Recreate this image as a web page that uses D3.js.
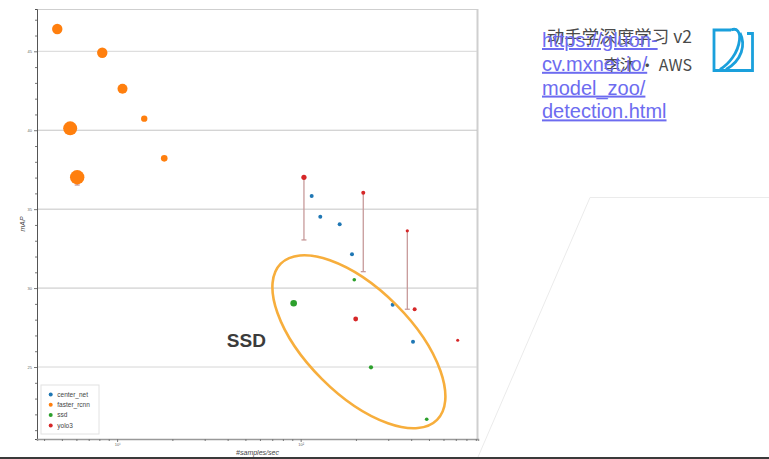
<!DOCTYPE html>
<html>
<head>
<meta charset="utf-8">
<script src="https://cdn.jsdelivr.net/npm/d3@7"></script>
<style>
  body { margin: 0; background: #fff; }
  svg { display: block; }
</style>
</head>
<body>
<svg id="chart" width="769" height="459"></svg>
<script>
// series names + colours (legend order)
const seriesNames = ["center_net", "faster_rcnn", "ssd", "yolo3"];
const seriesColors = ["#1f77b4", "#ff7f0e", "#2ca02c", "#d62728"];

// throughput (#samples/sec), mAP, marker value, lower error bound
const centerNetSpeed = [114.8, 127.9, 163.1, 190.4, 317.2, 409.3];
const centerNetMap   = [35.83, 34.52, 34.04, 32.14, 28.95, 26.60];
const centerNetVal   = [4, 4, 4, 4, 4, 4];

const fasterRcnnSpeed = [4.72, 8.30, 10.7, 14.05, 5.55, 6.06, 18.06];
const fasterRcnnMap   = [46.41, 44.91, 42.63, 40.73, 40.12, 37.02, 38.22];
const fasterRcnnVal   = [27, 27, 25, 10, 49, 52, 11];
const fasterRcnnLow   = [null, null, null, null, null, 36.53, null];

const ssdSpeed = [91.6, 195.9, 241.6, 486];
const ssdMap   = [29.04, 30.53, 24.98, 21.69];
const ssdVal   = [11, 3.3, 4.4, 3.3];

const yoloSpeed = [104.2, 219.3, 381.1, 199.4, 417.8, 717.1];
const yoloMap   = [37.02, 36.04, 33.63, 28.04, 28.66, 26.69];
const yoloVal   = [6.8, 4, 2.6, 5.8, 4, 2.3];
const yoloLow   = [33.05, 31.04, 28.66, null, null, null];

// axis ticks
const xMajorTicks = [10, 100];
const xMinorTicks = [4, 5, 6, 7, 8, 9, 20, 30, 40, 50, 60, 70, 80, 90, 200, 300, 400, 500, 600, 700, 800, 900];
const yMajorTicks = [25, 30, 35, 40, 45];
const yMinorTicks = d3.range(21, 48);

// callout in data units
const calloutLabel = "SSD";
const calloutLabelAt = [39.6, 26.27];
const calloutCentre = [207.6, 26.6];

const svg = d3.select("#chart");

const pL = 37, pR = 478, pT = 9, pB = 439;

const x = d3.scaleLog().domain([3.66, 925]).range([pL, pR]);
const y = d3.scaleLinear().domain([20.44, 47.68]).range([pB, pT]);
const r = d3.scaleSqrt().domain([0, 100]).range([0, 10]);

// build point rows
function rows(speed, map, val, low, k) {
  return speed.map((s, i) => ({
    speed: s, map: map[i], val: val[i], low: low ? low[i] : null, k: k
  }));
}
const points = [].concat(
  rows(fasterRcnnSpeed, fasterRcnnMap, fasterRcnnVal, fasterRcnnLow, 1),
  rows(centerNetSpeed, centerNetMap, centerNetVal, null, 0),
  rows(ssdSpeed, ssdMap, ssdVal, null, 2),
  rows(yoloSpeed, yoloMap, yoloVal, yoloLow, 3)
);

// slide decoration: faint panel outline + bottom rule
svg.append("path")
  .attr("d", "M478,457 L590,197.5 L769,197.5")
  .attr("fill", "none")
  .attr("stroke", "#ebebeb")
  .attr("stroke-width", 1);
svg.append("rect")
  .attr("x", 0).attr("y", 457).attr("width", 769).attr("height", 2)
  .attr("fill", "#3a3a3a");

// frame
svg.append("line")
  .attr("x1", pL).attr("x2", pR).attr("y1", pT + 0.5).attr("y2", pT + 0.5)
  .attr("stroke", "#cfcfcf");
svg.append("line")
  .attr("x1", pR - 0.5).attr("x2", pR - 0.5).attr("y1", pT).attr("y2", pB + 1)
  .attr("stroke", "#cfcfcf").attr("stroke-width", 2);

// horizontal grid
svg.append("g")
  .selectAll("line")
  .data(yMajorTicks)
  .join("line")
  .attr("x1", pL).attr("x2", pR - 1)
  .attr("y1", d => y(d)).attr("y2", d => y(d))
  .attr("stroke", d => (d === 25 || d === 45) ? "#d6d6d6" : "#c4c4c4")
  .attr("stroke-width", 1);

// y axis
const yAxis = svg.append("g")
  .attr("transform", `translate(${pL},0)`)
  .call(d3.axisLeft(y)
    .tickValues(yMinorTicks)
    .tickSize(2)
    .tickPadding(3)
    .tickFormat(d => yMajorTicks.includes(d) ? d : ""));
yAxis.select(".domain").attr("stroke", "#555");
yAxis.selectAll(".tick line").attr("stroke", "#777")
  .attr("x2", d => yMajorTicks.includes(d) ? -3 : -2);
yAxis.selectAll(".tick text")
  .attr("font-size", 4).attr("fill", "#666").attr("font-family", "Liberation Sans, Arial, sans-serif");

// x axis
const xAxis = svg.append("g")
  .attr("transform", `translate(0,${pB})`)
  .call(d3.axisBottom(x)
    .tickValues(xMinorTicks.concat(xMajorTicks))
    .tickSize(2)
    .tickPadding(2)
    .tickFormat(d => d === 10 ? "10\u00b9" : d === 100 ? "10\u00b2" : ""));
xAxis.select(".domain").attr("stroke", "#999").attr("stroke-width", 1.5);
xAxis.selectAll(".tick line").attr("stroke", "#777")
  .attr("y2", d => xMajorTicks.includes(d) ? 3 : 2);
xAxis.selectAll(".tick text")
  .attr("font-size", 4).attr("fill", "#666").attr("font-family", "Liberation Sans, Arial, sans-serif");

// axis titles
svg.append("text")
  .attr("transform", `translate(25,${(pT + pB) / 2}) rotate(-90)`)
  .attr("text-anchor", "middle")
  .attr("font-family", "Liberation Sans, Arial, sans-serif")
  .attr("font-style", "italic")
  .attr("font-size", 7)
  .attr("fill", "#444")
  .text("mAP");
svg.append("text")
  .attr("x", (pL + pR) / 2).attr("y", 455)
  .attr("text-anchor", "middle")
  .attr("font-family", "Liberation Sans, Arial, sans-serif")
  .attr("font-style", "italic")
  .attr("font-size", 7)
  .attr("fill", "#444")
  .text("#samples/sec");

// error bars
const withErr = points.filter(d => d.low !== null);
const err = svg.append("g")
  .attr("stroke", "#c79a9a")
  .attr("stroke-width", 1.3);
err.selectAll(".stem")
  .data(withErr)
  .join("line")
  .attr("class", "stem")
  .attr("x1", d => x(d.speed)).attr("x2", d => x(d.speed))
  .attr("y1", d => y(d.map)).attr("y2", d => y(d.low));
err.selectAll(".cap")
  .data(withErr)
  .join("line")
  .attr("class", "cap")
  .attr("x1", d => x(d.speed) - 2.5).attr("x2", d => x(d.speed) + 2.5)
  .attr("y1", d => y(d.low)).attr("y2", d => y(d.low));

// points
svg.append("g")
  .selectAll("circle")
  .data(points)
  .join("circle")
  .attr("cx", d => x(d.speed))
  .attr("cy", d => y(d.map))
  .attr("r", d => r(d.val))
  .attr("fill", d => seriesColors[d.k]);

// legend
const lg = svg.append("g").attr("transform", "translate(41,385)");
lg.append("rect")
  .attr("width", 58).attr("height", 49)
  .attr("fill", "#fff").attr("stroke", "#e2e2e2");
const li = lg.selectAll(".item")
  .data(seriesNames)
  .join("g")
  .attr("class", "item")
  .attr("transform", (d, i) => `translate(0,${9.5 + i * 10.3})`);
li.append("circle").attr("cx", 9.7).attr("r", 2)
  .attr("fill", (d, i) => seriesColors[i]);
li.append("text")
  .attr("x", 16.3).attr("dy", "0.35em")
  .attr("font-family", "Liberation Sans, Arial, sans-serif")
  .attr("font-size", 6.5)
  .attr("fill", "#444")
  .text(d => d);

// SSD callout
const ecx = x(calloutCentre[0]), ecy = y(calloutCentre[1]);
svg.append("ellipse")
  .attr("transform", `translate(${ecx},${ecy}) rotate(45)`)
  .attr("rx", 110.5).attr("ry", 52.5)
  .attr("fill", "none")
  .attr("stroke", "#f7ae3c")
  .attr("stroke-width", 2.6);
svg.append("text")
  .attr("x", x(calloutLabelAt[0])).attr("y", y(calloutLabelAt[1]))
  .attr("font-family", "Liberation Sans, Arial, sans-serif")
  .attr("font-weight", "bold")
  .attr("font-size", 19)
  .attr("fill", "#3b3b3b")
  .text(calloutLabel);

// slide header (course title)
const hdr = svg.append("g")
  .attr("font-family", "'Noto Sans CJK SC', 'Noto Sans', sans-serif")
  .attr("fill", "#4a4a4a")
  .attr("text-anchor", "end");
hdr.append("text").attr("x", 692).attr("y", 43).attr("font-size", 17.5).text("动手学深度学习 v2");
hdr.append("text").attr("x", 692).attr("y", 71).attr("font-size", 16).text("李沐 · AWS");

// logo
const logo = svg.append("g")
  .attr("fill", "none")
  .attr("stroke", "#1aa0dc")
  .attr("stroke-width", 2.8)
  .attr("stroke-linejoin", "miter");
logo.append("path").attr("d", "M747,33.5 L752.5,33.5 L752.5,70.5 L714,70.5 L714,30 L731,30");
logo.append("path").attr("d", "M731,30 C737,27.5 740.5,32 739.5,40 C738,53 729,64 720,69.5");
logo.append("path").attr("d", "M740,33 C746,45 742,60 726,69.5");

// source link
const link = svg.append("g")
  .attr("font-family", "Liberation Sans, Arial, sans-serif")
  .attr("font-size", 20)
  .attr("fill", "#6d6cf0")
  .attr("text-decoration", "underline");
["https://gluon-", "cv.mxnet.io/", "model_zoo/", "detection.html"].forEach((t, i) => {
  link.append("text").attr("x", 542).attr("y", 47 + i * 23.8).text(t);
});
</script>
</body>
</html>
